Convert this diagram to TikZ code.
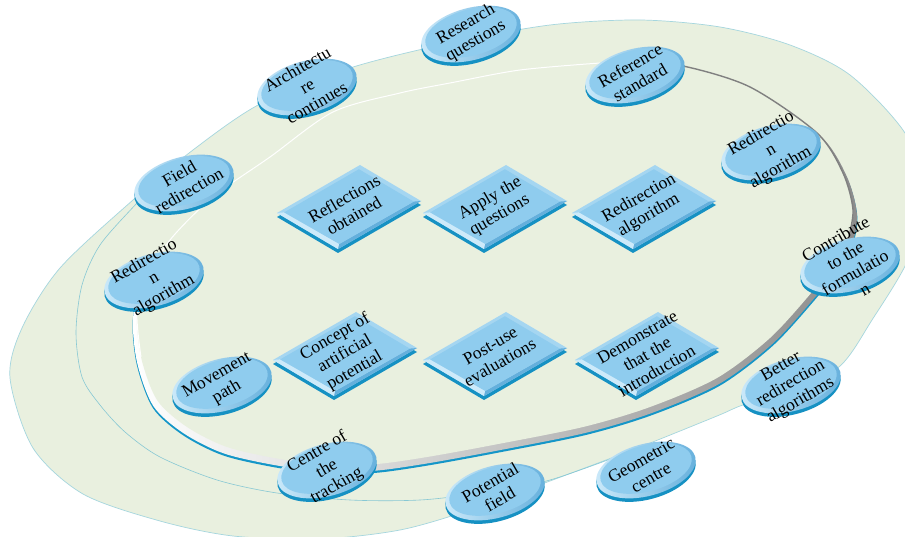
\documentclass[tikz,border=0pt]{standalone}
\usepackage{fontspec}
\setmainfont{Liberation Serif}
\usetikzlibrary{calc}
\definecolor{bggreen}{RGB}{233,240,223}
\definecolor{outerline}{RGB}{165,214,222}
\definecolor{midline}{RGB}{135,200,212}
\definecolor{rimteal}{RGB}{20,150,200}
\definecolor{discblue}{RGB}{143,204,238}
\definecolor{discedge}{RGB}{22,145,195}
\definecolor{bevlight}{RGB}{205,234,250}
\definecolor{bevdark}{RGB}{100,175,220}
\tikzset{
  lbl/.style={rotate=30, align=center, font=\fontsize{17.5}{19.5}\selectfont, text=black, inner sep=0pt},
}
\newcommand{\mydisc}[4]{%
  \fill[discedge, shift={(#2,#3+3.5)}, rotate=15] (0,0) ellipse [x radius=51, y radius=26];
  \shade[left color=bevlight, right color=bevdark, shift={(#2,#3)}, rotate=15] (0,0) ellipse [x radius=51, y radius=26];
  \fill[discblue, shift={(#2,#3-1.5)}, rotate=15] (0,0) ellipse [x radius=47, y radius=23];
  \node[lbl] (#1) at (#2,#3-1) {#4};
}
\newcommand{\mytile}[4]{%
  \coordinate (#1L) at (#2,#3);
  \coordinate (#1T) at ($(#1L)+(83,-48)$);
  \coordinate (#1R) at ($(#1L)+(144,-12)$);
  \coordinate (#1B) at ($(#1L)+(61,36)$);
  \coordinate (#1C) at ($(#1L)!0.5!(#1R)$);
  \coordinate (#1l) at ($(#1L)!0.1!(#1C)$);
  \coordinate (#1t) at ($(#1T)!0.1!(#1C)$);
  \coordinate (#1r) at ($(#1R)!0.1!(#1C)$);
  \coordinate (#1b) at ($(#1B)!0.12!(#1C)$);
  \fill[discedge] ($(#1L)+(0,4)$) -- ($(#1T)+(0,4)$) -- ($(#1R)+(0,4)$) -- ($(#1B)+(0,4)$) -- cycle;
  \fill[discblue!80!white] (#1L) -- (#1T) -- (#1R) -- (#1B) -- cycle;
  \fill[bevlight] (#1L) -- (#1B) -- (#1b) -- (#1l) -- cycle;
  \fill[bevdark] (#1B) -- (#1R) -- (#1r) -- (#1b) -- cycle;
  \fill[discblue] (#1l) -- (#1t) -- (#1r) -- (#1b) -- cycle;
  \node[lbl] (#1) at (#1C) {#4};
}
\def\innerpath{plot[smooth cycle] coordinates {(848,240) (830,268) (812,292) (770,338) (717,378) (650,407) (583,427) (493,445) (427,457) (377,464) (330,465) (280,459) (227,447) (187,427) (157,400) (141,357) (137,313) (147,280) (170,240) (213,197) (270,157) (333,112) (400,93) (450,83) (520,70) (600,63) (683,66) (750,87) (817,133) (843,173) (853,210)}}
\def\outerpath{plot[smooth cycle] coordinates {(10,378) (22,328) (60,268) (133,200) (193,150) (260,104) (350,68) (450,43) (550,25) (640,20) (720,27) (790,45) (850,75) (905,133) (928,195) (908,260) (872,320) (840,366) (790,392) (743,405) (717,416) (640,447) (550,481) (470,510) (400,530) (320,539) (233,536) (160,521) (83,494) (33,448)}}
\begin{document}
\begin{tikzpicture}[x=1pt,y=-1pt]
\useasboundingbox (0,0) rectangle (905,537);
\clip (0,0) rectangle (905,537);
\fill[white] (0,0) rectangle (905,537);
% outer plate
\fill[bggreen] \outerpath;
\draw[outerline, line width=0.7pt] \outerpath;
\draw[midline, line width=0.6pt] plot[smooth] coordinates {(165,174) (137,203) (100,245) (82,285) (76,333) (82,377) (100,405) (125,432) (160,457) (217,480) (277,493) (350,500) (420,500) (480,493) (550,480) (640,448)};
% inner plate with rim
\fill[rimteal, shift={(0,6.5)}, scale around={1.012:(497,266)}] \innerpath;
\shade[left color=white, middle color=white!88!black, right color=black!45, shift={(0,4.5)}, scale around={1.011:(497,266)}] \innerpath;
\fill[bggreen] \innerpath;
\draw[white, line width=1pt] plot[smooth] coordinates {(141,357) (137,313) (147,280) (170,240) (213,197) (270,157) (333,112) (400,93) (450,83) (520,70) (600,63)};
\draw[black!50, line width=1.4pt] plot[smooth] coordinates {(640,63.5) (683,66) (750,87) (817,133) (843,173) (853,210) (848,240)};
% tiles
\mytile{ta}{277}{213}{Reflections\\obtained}
\mytile{tb}{423}{213}{Apply the\\questions}
\mytile{tc}{572}{213}{Redirection\\algorithm}
\mytile{td}{273}{360}{Concept of\\artificial\\potential}
\mytile{te}{423}{360}{Post-use\\evaluations}
\mytile{tf}{575}{360}{Demonstrate\\that the\\introduction}
% discs
\mydisc{research}{471}{34}{Research\\questions}
\mydisc{archi}{307}{87}{Architectu\\re\\continues}
\mydisc{refstd}{635}{75}{Reference\\standard}
\mydisc{redirr}{771}{152}{Redirectio\\n\\algorithm}
\mydisc{field}{184}{183}{Field\\redirection}
\mydisc{redirl}{154}{280}{Redirectio\\n\\algorithm}
\mydisc{contrib}{850}{265}{Contribute\\to the\\formulatio\\n}
\mydisc{move}{222}{385}{Movement\\path}
\mydisc{centre}{327}{470}{Centre of\\the\\tracking}
\mydisc{potential}{495}{492}{Potential\\field}
\mydisc{geom}{646}{470}{Geometric\\centre}
\mydisc{better}{791}{385}{Better\\redirection\\algorithms}
\end{tikzpicture}
\end{document}
